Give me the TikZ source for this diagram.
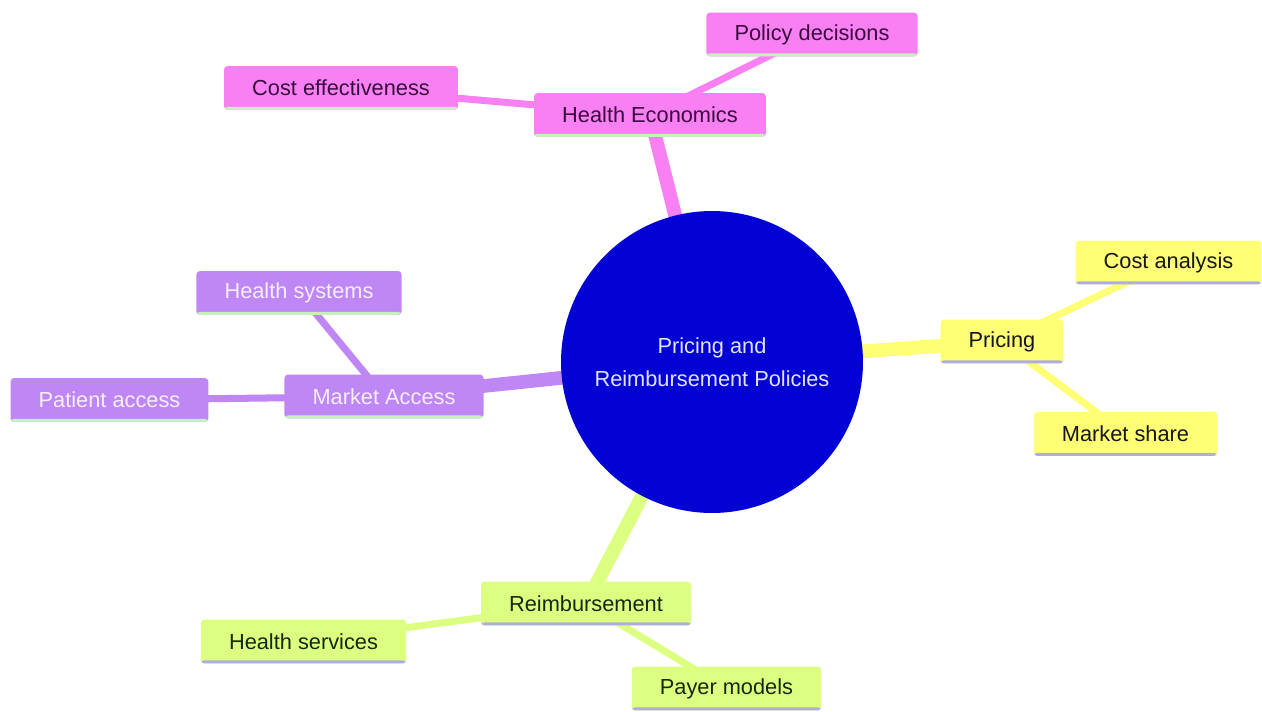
\documentclass[tikz,border=0pt]{standalone}
\usepackage{fontspec}
\setmainfont{Liberation Sans}
\usetikzlibrary{backgrounds}

\definecolor{mmblue}{RGB}{2,2,212}
\definecolor{mmbluetext}{RGB}{226,226,255}
\definecolor{mmpink}{RGB}{248,128,242}
\definecolor{mmpinktext}{RGB}{58,8,62}
\definecolor{mmyellow}{RGB}{255,255,118}
\definecolor{mmyellowtext}{RGB}{22,22,22}
\definecolor{mmpurple}{RGB}{190,135,245}
\definecolor{mmpurpletext}{RGB}{246,238,255}
\definecolor{mmlime}{RGB}{220,255,130}
\definecolor{mmlimetext}{RGB}{22,40,12}
\definecolor{mmgreenline}{RGB}{200,240,190}
\definecolor{mmlavline}{RGB}{175,172,228}

\begin{document}
\begin{tikzpicture}[
	x=0.02cm, y=-0.02cm,
	font=\fontsize{12.4}{19}\selectfont,
	underline/.style={path picture={
		\fill[#1] ([yshift=1.8pt]path picture bounding box.south west)
			rectangle (path picture bounding box.south east);}},
	mmbox/.style={rectangle, rounded corners=2pt, minimum height=25pt,
		inner xsep=16pt, inner ysep=4pt},
	root/.style={circle, fill=mmblue, text=mmbluetext, minimum size=6.04cm,
		inner sep=0pt, align=center},
	pinkbox/.style={mmbox, fill=mmpink, text=mmpinktext, underline=mmgreenline},
	yellowbox/.style={mmbox, fill=mmyellow, text=mmyellowtext, underline=mmlavline},
	purplebox/.style={mmbox, fill=mmpurple, text=mmpurpletext, underline=mmgreenline},
	limebox/.style={mmbox, fill=mmlime, text=mmlimetext, underline=mmlavline},
	mainedge/.style={line width=7.8pt},
	subedge/.style={line width=4pt},
	]
\useasboundingbox (0,0) rectangle (1262,711);

% centre
\node [root] (policies) at (712,362) {Pricing and\\Reimbursement Policies};

% health economics
\node [pinkbox] (healthecon) at (650,115) {Health Economics};
\node [pinkbox] (policydec) at (812,34.5) {Policy decisions};
\node [pinkbox] (costeff) at (341,88) {Cost effectiveness};

% pricing
\node [yellowbox] (pricing) at (1002,341.5) {Pricing};
\node [yellowbox] (costanal) at (1168.5,262.5) {Cost analysis};
\node [yellowbox] (marketshare) at (1125.5,434) {Market share};

% market access
\node [purplebox] (marketacc) at (384,396.5) {Market Access};
\node [purplebox] (healthsys) at (299,293) {Health systems};
\node [purplebox] (patientacc) at (109.5,400) {Patient access};

% reimbursement
\node [limebox] (reimb) at (586,603.5) {Reimbursement};
\node [limebox] (healthserv) at (303.5,641.5) {Health services};
\node [limebox] (payer) at (726.5,688.5) {Payer models};

\begin{pgfonlayer}{background}
	\draw [mainedge, mmpink] (policies.center) -- (healthecon.center);
	\draw [subedge, mmpink] (healthecon.center) -- (policydec.center);
	\draw [subedge, mmpink] (healthecon.center) -- (costeff.center);
	\draw [mainedge, mmyellow] (policies.center) -- (pricing.center);
	\draw [subedge, mmyellow] (pricing.center) -- (costanal.center);
	\draw [subedge, mmyellow] (pricing.center) -- (marketshare.center);
	\draw [mainedge, mmpurple] (policies.center) -- (marketacc.center);
	\draw [subedge, mmpurple] (marketacc.center) -- (healthsys.center);
	\draw [subedge, mmpurple] (marketacc.center) -- (patientacc.center);
	\draw [mainedge, mmlime] (policies.center) -- (reimb.center);
	\draw [subedge, mmlime] (reimb.center) -- (healthserv.center);
	\draw [subedge, mmlime] (reimb.center) -- (payer.center);
\end{pgfonlayer}
\end{tikzpicture}
\end{document}
